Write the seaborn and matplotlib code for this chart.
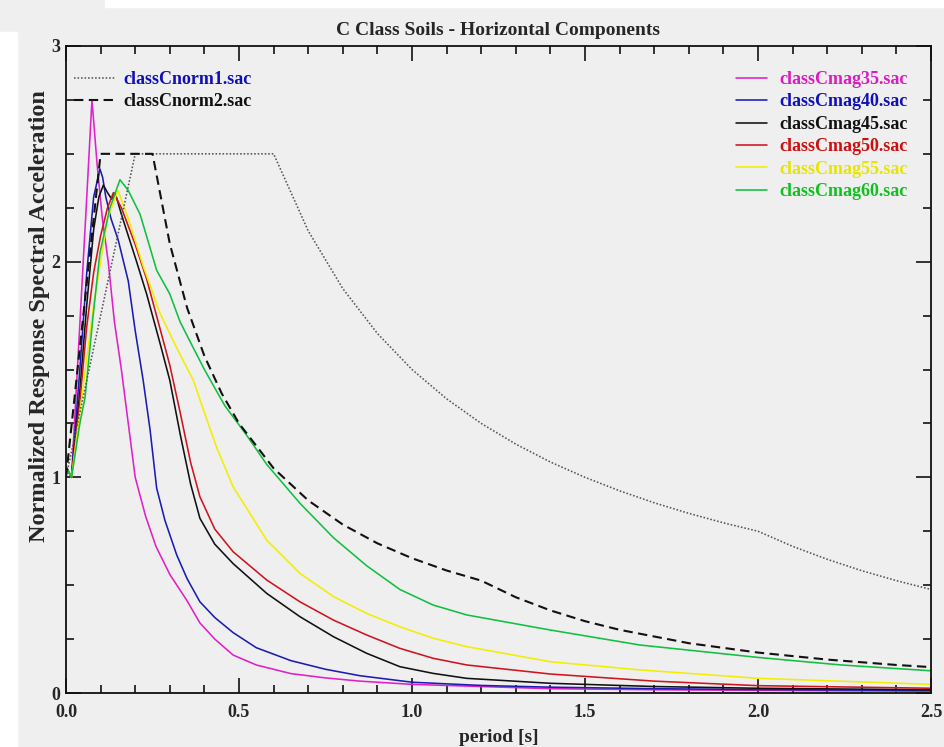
import matplotlib
matplotlib.use("Agg")
import matplotlib.pyplot as plt
from matplotlib.lines import Line2D
from matplotlib.patches import Rectangle
from matplotlib.ticker import MultipleLocator, FormatStrFormatter
import pandas as pd
import seaborn as sns

# ---- design spectra (normalised) ----
norm1_T = [0.0, 0.2, 0.6, 0.7, 0.8, 0.9, 1.0, 1.1, 1.2, 1.3, 1.4, 1.5, 1.6, 1.7,
           1.8, 1.9, 2.0, 2.1, 2.2, 2.3, 2.4, 2.5]
norm1_sa = [1.0, 2.5, 2.5, 2.143, 1.875, 1.667, 1.5, 1.364, 1.25, 1.154, 1.071, 1.0,
            0.9375, 0.882, 0.833, 0.789, 0.75, 0.68, 0.62, 0.567, 0.521, 0.48]

norm2_T = [0.0, 0.1, 0.25, 0.3, 0.35, 0.4, 0.45, 0.5, 0.6, 0.7, 0.8, 0.9, 1.0, 1.1,
           1.2, 1.3, 1.4, 1.5, 1.6, 1.8, 2.0, 2.2, 2.4, 2.5]
norm2_sa = [1.0, 2.5, 2.5, 2.083, 1.786, 1.5625, 1.389, 1.25, 1.042, 0.893, 0.781,
            0.694, 0.625, 0.568, 0.521, 0.444, 0.383, 0.333, 0.293, 0.231, 0.1875,
            0.155, 0.13, 0.12]

# ---- mean spectra by magnitude class ----
mag35_T = [0.0, 0.016, 0.04, 0.06, 0.075, 0.09, 0.105, 0.122, 0.14, 0.16, 0.18, 0.2,
           0.23, 0.26, 0.3, 0.349, 0.387, 0.43, 0.483, 0.55, 0.65, 0.75, 0.85, 1.0,
           1.2, 1.4, 1.7, 2.0, 2.5]
mag35_sa = [1.05, 1.0, 1.71, 2.3, 2.75, 2.45, 2.2, 2.0, 1.72, 1.5, 1.25, 1.0, 0.82,
            0.68, 0.55, 0.43, 0.325, 0.25, 0.176, 0.13, 0.09, 0.07, 0.055, 0.04,
            0.03, 0.02, 0.015, 0.012, 0.008]

mag40_T = [0.0, 0.016, 0.04, 0.06, 0.08, 0.098, 0.106, 0.115, 0.13, 0.151, 0.18, 0.2,
           0.223, 0.243, 0.262, 0.286, 0.32, 0.35, 0.387, 0.43, 0.483, 0.55, 0.65,
           0.75, 0.85, 1.0, 1.2, 1.4, 1.7, 2.0, 2.5]
mag40_sa = [1.05, 1.0, 1.5, 1.95, 2.3, 2.43, 2.39, 2.3, 2.2, 2.1, 1.91, 1.68, 1.45,
            1.22, 0.95, 0.8, 0.64, 0.53, 0.423, 0.35, 0.28, 0.21, 0.15, 0.11, 0.08,
            0.05, 0.035, 0.027, 0.02, 0.016, 0.012]

mag45_T = [0.0, 0.016, 0.04, 0.06, 0.08, 0.095, 0.108, 0.12, 0.132, 0.142, 0.16, 0.18,
           0.204, 0.233, 0.272, 0.3, 0.33, 0.36, 0.387, 0.43, 0.483, 0.58, 0.676,
           0.773, 0.869, 0.965, 1.061, 1.158, 1.4, 1.7, 2.0, 2.5]
mag45_sa = [1.05, 1.0, 1.4, 1.8, 2.15, 2.3, 2.355, 2.32, 2.29, 2.32, 2.22, 2.12, 2.0,
            1.85, 1.62, 1.45, 1.2, 0.97, 0.81, 0.69, 0.6, 0.462, 0.354, 0.261, 0.184,
            0.122, 0.091, 0.068, 0.045, 0.03, 0.022, 0.015]

mag50_T = [0.0, 0.016, 0.04, 0.06, 0.08, 0.1, 0.12, 0.137, 0.16, 0.2, 0.233, 0.27,
           0.3, 0.33, 0.36, 0.387, 0.43, 0.483, 0.58, 0.676, 0.773, 0.869, 0.965,
           1.061, 1.158, 1.4, 1.7, 2.0, 2.5]
mag50_sa = [1.05, 1.0, 1.35, 1.7, 1.95, 2.12, 2.25, 2.32, 2.25, 2.08, 1.92, 1.7, 1.52,
            1.3, 1.07, 0.91, 0.76, 0.655, 0.524, 0.423, 0.338, 0.269, 0.207, 0.161,
            0.13, 0.088, 0.055, 0.034, 0.022]

mag55_T = [0.0, 0.016, 0.04, 0.06, 0.08, 0.1, 0.12, 0.15, 0.18, 0.223, 0.272, 0.32,
           0.368, 0.4, 0.435, 0.483, 0.58, 0.676, 0.773, 0.869, 0.965, 1.061, 1.158,
           1.4, 1.659, 2.0, 2.5]
mag55_sa = [1.05, 1.0, 1.3, 1.55, 1.8, 2.0, 2.2, 2.33, 2.2, 1.98, 1.76, 1.6, 1.45,
            1.3, 1.14, 0.956, 0.709, 0.555, 0.447, 0.369, 0.307, 0.254, 0.215, 0.145,
            0.107, 0.068, 0.04]

mag60_T = [0.0, 0.016, 0.04, 0.055, 0.079, 0.098, 0.127, 0.156, 0.18, 0.214, 0.24,
           0.262, 0.3, 0.33, 0.368, 0.4, 0.435, 0.46, 0.52, 0.58, 0.676, 0.773, 0.869,
           0.965, 1.061, 1.158, 1.4, 1.659, 2.0, 2.24, 2.5]
mag60_sa = [1.05, 1.0, 1.25, 1.37, 1.76, 2.04, 2.25, 2.38, 2.33, 2.22, 2.08, 1.96,
            1.85, 1.72, 1.6, 1.5, 1.4, 1.33, 1.2, 1.06, 0.88, 0.72, 0.59, 0.48, 0.408,
            0.362, 0.292, 0.2225, 0.165, 0.13, 0.103]

mag_files = ["classCmag35.sac", "classCmag40.sac", "classCmag45.sac",
             "classCmag50.sac", "classCmag55.sac", "classCmag60.sac"]
norm_files = ["classCnorm1.sac", "classCnorm2.sac"]

series = [
    (mag_files[0], mag35_T, mag35_sa),
    (mag_files[1], mag40_T, mag40_sa),
    (mag_files[2], mag45_T, mag45_sa),
    (mag_files[3], mag50_T, mag50_sa),
    (mag_files[4], mag55_T, mag55_sa),
    (mag_files[5], mag60_T, mag60_sa),
    (norm_files[0], norm1_T, norm1_sa),
    (norm_files[1], norm2_T, norm2_sa),
]

colors = {
    "classCmag35.sac": "#e020c8",
    "classCmag40.sac": "#1c1cb4",
    "classCmag45.sac": "#111111",
    "classCmag50.sac": "#d0141e",
    "classCmag55.sac": "#f2ee00",
    "classCmag60.sac": "#10c040",
    "classCnorm1.sac": "#555555",
    "classCnorm2.sac": "#111111",
}
text_colors = {
    "classCmag35.sac": "#d81cc0",
    "classCmag40.sac": "#1010b8",
    "classCmag45.sac": "#111111",
    "classCmag50.sac": "#cc1010",
    "classCmag55.sac": "#e8e400",
    "classCmag60.sac": "#10c020",
    "classCnorm1.sac": "#1010b8",
    "classCnorm2.sac": "#111111",
}
widths = {f: 1.15 for f in mag_files}
widths["classCnorm1.sac"] = 1.15
widths["classCnorm2.sac"] = 1.5
dashes = {f: "" for f in mag_files}
dashes["classCnorm1.sac"] = (1.0, 1.2)
dashes["classCnorm2.sac"] = (4.5, 2.6)

rows = []
for name, T, sa in series:
    for t, v in zip(T, sa):
        rows.append({"period": t, "sa": v, "file": name})
df = pd.DataFrame(rows)

BG = "#efefef"
sns.set_theme(style="ticks")
plt.rcParams["font.family"] = ["Liberation Serif", "DejaVu Serif"]

fig = plt.figure(figsize=(9.44, 7.47), dpi=100, facecolor=BG)
ax = fig.add_axes([66 / 944, 1 - 693 / 747, 865 / 944, 647 / 747])
ax.set_facecolor(BG)

order = mag_files + norm_files
sns.lineplot(data=df, x="period", y="sa", hue="file", style="file",
             hue_order=order, style_order=order, palette=colors, dashes=dashes,
             estimator=None, sort=False, legend=False, linewidth=1.15, ax=ax)
for ln, f in zip(ax.get_lines(), order):
    ln.set_linewidth(widths[f])

ax.set_xlim(0, 2.5)
ax.set_ylim(0, 3)
ax.xaxis.set_major_locator(MultipleLocator(0.5))
ax.xaxis.set_minor_locator(MultipleLocator(0.1))
ax.yaxis.set_major_locator(MultipleLocator(1))
ax.yaxis.set_minor_locator(MultipleLocator(0.25))
ax.xaxis.set_major_formatter(FormatStrFormatter("%.1f"))
ax.yaxis.set_major_formatter(FormatStrFormatter("%d"))
ax.tick_params(which="both", direction="in", top=True, right=True,
               color="#111111", width=1.2)
ax.tick_params(which="major", length=11, labelsize=13)
ax.tick_params(axis="x", which="major", pad=8)
ax.tick_params(axis="y", which="major", pad=4)
ax.tick_params(which="minor", length=6)
for lab in ax.get_xticklabels() + ax.get_yticklabels():
    lab.set_fontweight("bold")
for sp in ax.spines.values():
    sp.set_color("#111111")
    sp.set_linewidth(1.3)

ax.set_title("C Class Soils - Horizontal Components", fontsize=14,
             fontweight="bold", pad=8)
ax.set_xlabel("period [s]", fontsize=14, fontweight="bold", labelpad=6)
ax.set_ylabel("Normalized Response Spectral Acceleration", fontsize=17.5,
              fontweight="bold")
ax.yaxis.set_label_coords(-0.019, 0.583)

# legends
def make_handles(files):
    hs = []
    for f in files:
        d = dashes[f]
        ls = "-" if d == "" else (0, d)
        hs.append(Line2D([], [], color=colors[f], linestyle=ls,
                         linewidth=widths[f]))
    return hs

leg_prop = {"weight": "bold", "size": 13}
leg1 = ax.legend(make_handles(norm_files), norm_files, loc="upper left",
                 bbox_to_anchor=(8 / 865, 1 - 25 / 647), frameon=False,
                 handlelength=2.3, handletextpad=0.45,
                 labelspacing=0.3, borderpad=0, borderaxespad=0, prop=leg_prop)
for t, f in zip(leg1.get_texts(), norm_files):
    t.set_color(text_colors[f])
ax.add_artist(leg1)

leg2 = ax.legend(make_handles(mag_files), mag_files, loc="upper left",
                 bbox_to_anchor=(670 / 865, 1 - 25 / 647), frameon=False,
                 handlelength=1.7, handletextpad=0.7,
                 labelspacing=0.3, borderpad=0, borderaxespad=0, prop=leg_prop)
for t, f in zip(leg2.get_texts(), mag_files):
    t.set_color(text_colors[f])

# white page margins around the panel
fig.patches.append(Rectangle((105 / 944, 1 - 7 / 747), 1, 7 / 747,
                             transform=fig.transFigure, color="white", zorder=-1))
fig.patches.append(Rectangle((0, 0), 17 / 944, 1 - 32 / 747,
                             transform=fig.transFigure, color="white", zorder=-1))

fig.savefig("out.png", dpi=100, facecolor=BG)
